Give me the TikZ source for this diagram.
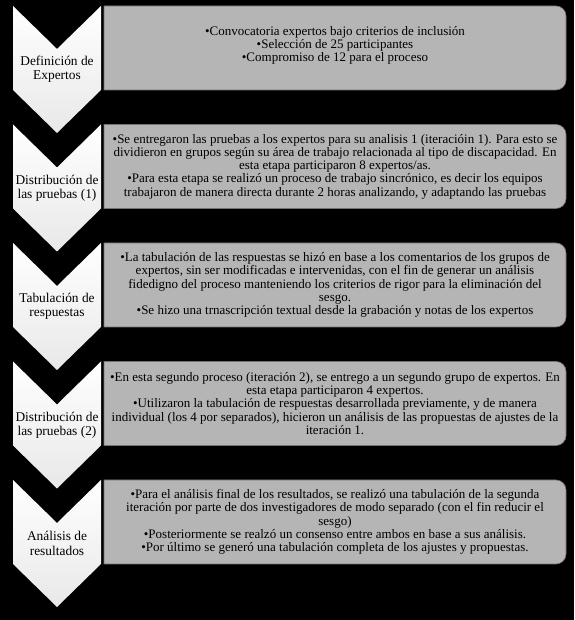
\documentclass[tikz,border=0pt]{standalone}
\usepackage{fontspec}
\setmainfont{Liberation Serif}

\tikzset{
  chevron/.style={top color=white, bottom color=black!9, draw=none},
  stepbox/.style={fill=black!29, draw=black!55, line width=0.6pt},
  steplabel/.style={align=center, inner sep=0pt, font=\fontsize{13.4}{14.4}\selectfont},
  steptext/.style={align=center, inner sep=0pt, font=\fontsize{13}{13.2}\selectfont}
}

\begin{document}
\begin{tikzpicture}[x=1pt, y=1pt]
\fill[black] (0,0) rectangle (574,620);
\useasboundingbox (0,0) rectangle (574,620);
% Definicion de expertos
\path[chevron] (13,614) -- (57,571) -- (101,614) -- (101,530) -- (57,487) -- (13,530) -- cycle;
\path[stepbox] (104,614) -- (556,614) arc[start angle=90, end angle=0, radius=10] -- (566,540) arc[start angle=0, end angle=-90, radius=10] -- (104,530) -- cycle;
\node[steplabel] (P1L) at (57,550.5) {Definición de\\Expertos};
\node[steptext] (P1T) at (335,574.5) {•Convocatoria expertos bajo criterios de inclusión\\•Selección de 25 participantes\\•Compromiso de 12 para el proceso};
% Distribucion de las pruebas (1)
\path[chevron] (13,495.5) -- (57,452.5) -- (101,495.5) -- (101,411.5) -- (57,368.5) -- (13,411.5) -- cycle;
\path[stepbox] (104,495.5) -- (556,495.5) arc[start angle=90, end angle=0, radius=10] -- (566,421.5) arc[start angle=0, end angle=-90, radius=10] -- (104,411.5) -- cycle;
\node[steplabel] (P2L) at (57,432) {Distribución de\\las pruebas (1)};
\node[steptext] (P2T) at (335,453.5) {•Se entregaron las pruebas a los expertos para su analisis 1 (iteracióin 1). Para esto se\\dividieron en grupos según su área de trabajo relacionada al tipo de discapacidad. En\\esta etapa participaron 8 expertos/as.\\•Para esta etapa se realizó un proceso de trabajo sincrónico, es decir los equipos\\trabajaron de manera directa durante 2 horas analizando, y adaptando las pruebas};
% Tabulacion de respuestas
\path[chevron] (13,377) -- (57,334) -- (101,377) -- (101,293) -- (57,250) -- (13,293) -- cycle;
\path[stepbox] (104,377) -- (556,377) arc[start angle=90, end angle=0, radius=10] -- (566,303) arc[start angle=0, end angle=-90, radius=10] -- (104,293) -- cycle;
\node[steplabel] (P3L) at (57,313.5) {Tabulación de\\respuestas};
\node[steptext] (P3T) at (335,335) {•La tabulación de las respuestas se hizó en base a los comentarios de los grupos de\\expertos, sin ser modificadas e intervenidas, con el fin de generar un análisis\\fidedigno del proceso manteniendo los criterios de rigor para la eliminación del\\sesgo.\\•Se hizo una trnascripción textual desde la grabación y notas de los expertos};
% Distribucion de las pruebas (2)
\path[chevron] (13,258.5) -- (57,215.5) -- (101,258.5) -- (101,174.5) -- (57,131.5) -- (13,174.5) -- cycle;
\path[stepbox] (104,258.5) -- (556,258.5) arc[start angle=90, end angle=0, radius=10] -- (566,184.5) arc[start angle=0, end angle=-90, radius=10] -- (104,174.5) -- cycle;
\node[steplabel] (P4L) at (57,195) {Distribución de\\las pruebas (2)};
\node[steptext] (P4T) at (335,216.5) {•En esta segundo proceso (iteración 2), se entrego a un segundo grupo de expertos. En\\esta etapa participaron 4 expertos.\\•Utilizaron la tabulación de respuestas desarrollada previamente, y de manera\\individual (los 4 por separados), hicieron un análisis de las propuestas de ajustes de la\\iteración 1.};
% Analisis de resultados
\path[chevron] (13,140) -- (57,97) -- (101,140) -- (101,56) -- (57,13) -- (13,56) -- cycle;
\path[stepbox] (104,140) -- (556,140) arc[start angle=90, end angle=0, radius=10] -- (566,66) arc[start angle=0, end angle=-90, radius=10] -- (104,56) -- cycle;
\node[steplabel] (P5L) at (57,76.5) {Análisis de\\resultados};
\node[steptext] (P5T) at (335,98) {•Para el análisis final de los resultados, se realizó una tabulación de la segunda\\iteración por parte de dos investigadores de modo separado (con el fin reducir el\\sesgo)\\•Posteriormente se realzó un consenso entre ambos en base a sus análisis.\\•Por último se generó una tabulación completa de los ajustes y propuestas.};
\end{tikzpicture}
\end{document}
